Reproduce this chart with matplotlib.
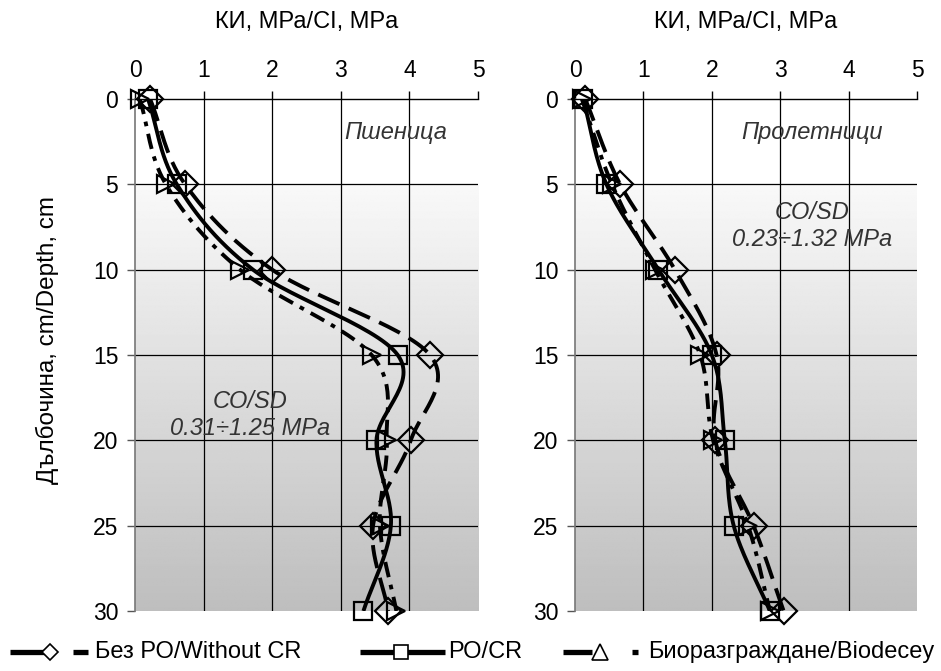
import numpy as np
import matplotlib
matplotlib.use("Agg")
import matplotlib.pyplot as plt
from matplotlib.lines import Line2D

plt.rcParams['font.family'] = ['Liberation Sans', 'DejaVu Sans']

# Depth of the measurements, cm
depth = [0, 5, 10, 15, 20, 25, 30]

# Cone index, MPa - wheat
wheat_no_cr = [0.22, 0.73, 2.00, 4.30, 4.02, 3.47, 3.69]
wheat_cr = [0.19, 0.61, 1.72, 3.83, 3.52, 3.73, 3.33]
wheat_bio = [0.07, 0.45, 1.53, 3.45, 3.67, 3.57, 3.81]

# Cone index, MPa - spring crops
spring_no_cr = [0.15, 0.66, 1.46, 2.07, 2.05, 2.61, 3.05]
spring_cr = [0.12, 0.46, 1.22, 2.00, 2.19, 2.32, 2.85]
spring_bio = [0.10, 0.54, 1.17, 1.83, 2.02, 2.53, 2.85]

x_ticks = [0, 1, 2, 3, 4, 5]
y_ticks = [0, 5, 10, 15, 20, 25, 30]

labels = ['Без РО/Without CR', 'РО/CR', 'Биоразграждане/Biodecey']
panel_titles = ['Пшеница', 'Пролетници']
sd_texts = ['CO/SD\n0.31÷1.25 MPa', 'CO/SD\n0.23÷1.32 MPa']

FS = 17


def smooth(xs, ys, n=30):
    """Catmull-Rom curve through the points (Excel-like smoothed line)."""
    p = np.column_stack([xs, ys]).astype(float)
    p = np.vstack([2 * p[0] - p[1], p, 2 * p[-1] - p[-2]])
    out = []
    for i in range(1, len(p) - 2):
        p0, p1, p2, p3 = p[i - 1], p[i], p[i + 1], p[i + 2]
        t = np.linspace(0, 1, n, endpoint=(i == len(p) - 3))[:, None]
        seg = 0.5 * ((2 * p1) + (-p0 + p2) * t + (2 * p0 - 5 * p1 + 4 * p2 - p3) * t ** 2
                     + (-p0 + 3 * p1 - 3 * p2 + p3) * t ** 3)
        out.append(seg)
    out = np.vstack(out)
    return out[:, 0], out[:, 1]


styles = [
    dict(marker='D', ls=(0, (6, 2.6)), ms=13),
    dict(marker='s', ls='-', ms=12.5),
    dict(marker='>', ls=(0, (4, 2, 1.2, 2)), ms=13),
]

W, H = 941, 671
fig = plt.figure(figsize=(W / 100, H / 100), dpi=100)
ax_l = fig.add_axes([135 / W, 1 - 611 / H, 343 / W, 512 / H])
ax_r = fig.add_axes([575 / W, 1 - 611 / H, 342 / W, 512 / H])

# gradient background: white near the surface, grey with depth
yy = np.linspace(0, 30, 300)
shade = np.where(yy < 5, 1.0, 0.975 - 0.23 * (yy - 5) / 25)
grad = np.repeat(shade[:, None], 2, axis=1)

panels = [
    (ax_l, [wheat_no_cr, wheat_cr, wheat_bio], (3.8, 1.95), (1.68, 18.5)),
    (ax_r, [spring_no_cr, spring_cr, spring_bio], (3.47, 1.95), (3.47, 7.45)),
]

for k, (ax, series, title_pos, sd_pos) in enumerate(panels):
    ax.imshow(grad, extent=[0, 5, 30, 0], aspect='auto', cmap='gray',
              vmin=0, vmax=1, zorder=0, interpolation='bilinear')
    ax.set_xlim(0, 5)
    ax.set_ylim(30, 0)
    ax.set_xticks(x_ticks)
    ax.set_yticks(y_ticks)
    ax.xaxis.tick_top()
    ax.tick_params(axis='x', direction='out', length=5.5, width=1, colors='black',
                   labelsize=16.5, pad=7)
    ax.tick_params(axis='y', direction='out', length=6, width=1, color='#555555',
                   labelcolor='black', labelsize=16.5, pad=6)
    for s in ['right', 'bottom']:
        ax.spines[s].set_visible(False)
    ax.spines['top'].set_linewidth(1.0)
    ax.spines['left'].set_color('#777777')
    ax.spines['left'].set_linewidth(1.2)
    for xv in x_ticks[1:-1]:
        ax.axvline(xv, color='black', lw=0.9, zorder=1)
    for yv in y_ticks[1:-1]:
        ax.axhline(yv, color='black', lw=0.9, zorder=1)
    ax.text(0.5, 1.150, 'КИ, МРа/CI, MPa', transform=ax.transAxes, fontsize=FS,
            ha='center', va='center')

    for vals, st in zip(series, styles):
        sx, sy = smooth(vals, depth)
        ax.plot(sx, sy, color='black', lw=2.8, ls=st['ls'], zorder=3,
                solid_capstyle='butt', dash_capstyle='butt')
        ax.plot(vals, depth, ls='none', marker=st['marker'], ms=st['ms'],
                mfc='none', mec='black', mew=1.6, zorder=4, clip_on=False)

    ax.text(title_pos[0], title_pos[1], panel_titles[k], fontsize=FS,
            style='italic', color='#333333', ha='center', va='center', zorder=5)
    ax.text(sd_pos[0], sd_pos[1], sd_texts[k], fontsize=FS, style='italic',
            color='#333333', ha='center', va='center', linespacing=1.2, zorder=5)

fig.text(47 / W, 1 - 340 / H, 'Дълбочина, cm/Depth, cm', rotation=90, fontsize=17.5,
         ha='center', va='center')

# legend row along the bottom edge
ly = 1 - 652 / H
tf = fig.transFigure


def key_line(x0, x1):
    fig.add_artist(Line2D([x0 / W, x1 / W], [ly, ly], transform=tf, color='black',
                          lw=3.8, solid_capstyle='butt'))


def key_marker(xc, marker, ms):
    fig.add_artist(Line2D([xc / W], [ly], transform=tf, ls='none', marker=marker,
                          ms=ms, mfc='white', mec='black', mew=1.2))


key_line(10, 45)
key_marker(50, 'D', 8)
key_line(73, 88)
fig.text(95 / W, ly, labels[0], fontsize=FS, ha='left', va='center')

key_line(360, 445)
key_marker(401, 's', 10)
fig.text(448 / W, ly, labels[1], fontsize=FS, ha='left', va='center')

key_line(563, 592)
key_marker(600, '^', 11)
key_line(632, 638)
fig.text(648 / W, ly, labels[2], fontsize=FS, ha='left', va='center')

fig.savefig('out.png', dpi=100)
